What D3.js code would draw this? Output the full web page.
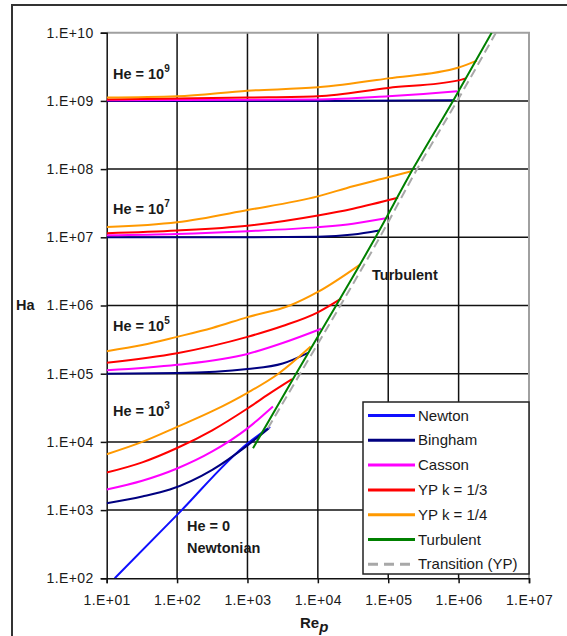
<!DOCTYPE html>
<html>
<head>
<meta charset="utf-8">
<script src="https://cdn.jsdelivr.net/npm/d3@7"></script>
<style>
  body { margin: 0; background: #fff; }
  svg text { font-family: "Liberation Sans", Arial, sans-serif; fill: #1a1a1a; }
</style>
</head>
<body>
<div class="graph"></div>
<script>
// axis ticks
var reTicks = [1e1, 1e2, 1e3, 1e4, 1e5, 1e6, 1e7]
var reLabels = ["1.E+01", "1.E+02", "1.E+03", "1.E+04", "1.E+05", "1.E+06", "1.E+07"]
var haTicks = [1e2, 1e3, 1e4, 1e5, 1e6, 1e7, 1e8, 1e9, 1e10]
var haLabels = ["1.E+02", "1.E+03", "1.E+04", "1.E+05", "1.E+06", "1.E+07", "1.E+08", "1.E+09", "1.E+10"]

// curves as [Re_p, Ha] pairs
var newton = [[13, 100], [100, 850], [1000, 9500], [2100, 16600]]

var binghamHe3 = [[10, 1260], [32, 1580], [79, 2000], [316, 3890], [1000, 8900], [2000, 15800]]
var cassonHe3 = [[10, 2000], [32, 2690], [100, 4070], [316, 7240], [1000, 15800], [2300, 33100]]
var yp3He3 = [[10, 3550], [32, 5010], [100, 8130], [316, 14800], [1000, 30900], [2000, 50100], [4300, 83000]]
var yp4He3 = [[10, 6600], [32, 10000], [100, 16600], [316, 28200], [1000, 52500], [2750, 100000], [7900, 250000]]

var binghamHe5 = [[10, 100000], [100, 102000], [1000, 117000], [3160, 141000], [7400, 204000]]
var cassonHe5 = [[10, 112000], [100, 135000], [1000, 195000], [3160, 282000], [11200, 457000]]
var yp3He5 = [[10, 145000], [100, 200000], [1000, 347000], [3160, 500000], [10000, 794000], [21400, 1260000]]
var yp4He5 = [[10, 214000], [32, 263000], [100, 347000], [316, 468000], [1000, 676000], [4000, 1000000], [10000, 1580000], [39800, 3980000]]

var binghamHe7 = [[10, 1e7], [1000, 1e7], [10000, 1.02e7], [31600, 1.1e7], [74000, 1.26e7]]
var cassonHe7 = [[10, 1.07e7], [100, 1.12e7], [1000, 1.23e7], [10000, 1.41e7], [31600, 1.58e7], [93000, 1.9e7]]
var yp3He7 = [[10, 1.15e7], [100, 1.26e7], [1000, 1.48e7], [10000, 2.09e7], [31600, 2.63e7], [138000, 3.8e7]]
var yp4He7 = [[10, 1.41e7], [100, 1.66e7], [1000, 2.51e7], [10000, 3.98e7], [31600, 5.62e7], [100000, 7.59e7], [214000, 9.3e7]]

var binghamHe9 = [[10, 1e9], [10000, 1e9], [832000, 1.02e9]]
var cassonHe9 = [[10, 1.02e9], [10000, 1.05e9], [100000, 1.17e9], [316000, 1.26e9], [955000, 1.38e9]]
var yp3He9 = [[10, 1.05e9], [1000, 1.12e9], [10000, 1.17e9], [100000, 1.55e9], [1000000, 2.0e9], [1260000, 2.14e9]]
var yp4He9 = [[10, 1.12e9], [100, 1.17e9], [1000, 1.41e9], [10000, 1.58e9], [100000, 2.14e9], [1000000, 3.09e9], [1820000, 3.89e9]]

var turbulent = [[1200, 8100], [4900, 1e5], [18200, 1e6], [66000, 1e7], [224000, 1e8], [832000, 1e9], [2950000, 1e10]]
var transition = [[1950, 15800], [5600, 1e5], [20900, 1e6], [75900, 1e7], [257000, 1e8], [955000, 1e9], [3390000, 1e10]]

var legendNames = ["Newton", "Bingham", "Casson", "YP k = 1/3", "YP k = 1/4", "Turbulent", "Transition (YP)"]
var legendColors = ["#1010ff", "#000080", "#ff00ff", "#ff0000", "#ff9900", "#008000", "#a8a8a8"]

var w = 567
var h = 636
var pLeft = 106.7, pRight = 529, pTop = 32.7, pBottom = 578.3

var x = d3.scaleLog().domain([1e1, 1e7]).range([pLeft, pRight])
var y = d3.scaleLog().domain([1e2, 1e10]).range([pBottom, pTop])

var svg = d3.select('.graph')
              .append("svg")
              .attr("width", w)
              .attr("height", h)

// outer frame (only left and top show in the picture)
svg.append("path")
  .attr("d", "M12,636 L12,5 L580,5")
  .attr("fill", "none")
  .attr("stroke", "#333")
  .attr("stroke-width", 2)

// gridlines
svg.selectAll("line.vgrid")
  .data(reTicks.slice(1, -1))
  .enter()
  .append("line")
  .attr("x1", function(d){ return x(d) })
  .attr("x2", function(d){ return x(d) })
  .attr("y1", pTop)
  .attr("y2", pBottom)
  .attr("stroke", "#111")
  .attr("stroke-width", 1.5)

svg.selectAll("line.hgrid")
  .data(haTicks.slice(1, -1))
  .enter()
  .append("line")
  .attr("y1", function(d){ return y(d) })
  .attr("y2", function(d){ return y(d) })
  .attr("x1", pLeft)
  .attr("x2", pRight)
  .attr("stroke", "#111")
  .attr("stroke-width", 1.5)

// top and right border in grey
svg.append("path")
  .attr("d", "M" + pLeft + "," + pTop + " L" + pRight + "," + pTop + " L" + pRight + "," + pBottom)
  .attr("fill", "none")
  .attr("stroke", "#a0a0a0")
  .attr("stroke-width", 2)

// axes
var yAxis = d3.axisLeft(y)
  .tickValues(haTicks)
  .tickFormat(function(d, i){ return haLabels[i] })
  .tickSize(6)
  .tickPadding(7)
var xAxis = d3.axisBottom(x)
  .tickValues(reTicks)
  .tickFormat(function(d, i){ return reLabels[i] })
  .tickSize(5)
  .tickPadding(12)

var gy = svg.append("g").attr("transform", "translate(" + pLeft + ",0)").call(yAxis)
var gx = svg.append("g").attr("transform", "translate(0," + pBottom + ")").call(xAxis)
svg.selectAll(".domain").attr("stroke", "#111").attr("stroke-width", 1.5)
svg.selectAll(".tick line").attr("stroke", "#111").attr("stroke-width", 1.5)
svg.selectAll(".tick text")
  .attr("font-family", "Liberation Sans, Arial, sans-serif")
  .attr("font-size", 14)
  .attr("fill", "#1a1a1a")
  .style("letter-spacing", "0.4px")

// clip to plot area
svg.append("clipPath").attr("id", "plotclip")
  .append("rect")
  .attr("x", pLeft).attr("y", pTop)
  .attr("width", pRight - pLeft).attr("height", pBottom - pTop)

var line = d3.line()
  .x(function(d){ return x(d[0]) })
  .y(function(d){ return y(d[1]) })
  .curve(d3.curveMonotoneX)

var plot = svg.append("g").attr("clip-path", "url(#plotclip)")

var series = [
  { data: [newton], color: legendColors[0] },
  { data: [binghamHe3, binghamHe5, binghamHe7, binghamHe9], color: legendColors[1] },
  { data: [cassonHe3, cassonHe5, cassonHe7, cassonHe9], color: legendColors[2] },
  { data: [yp3He3, yp3He5, yp3He7, yp3He9], color: legendColors[3] },
  { data: [yp4He3, yp4He5, yp4He7, yp4He9], color: legendColors[4] },
  { data: [turbulent], color: legendColors[5] },
  { data: [transition], color: legendColors[6], dash: "9,5" }
]

series.forEach(function(s){
  plot.selectAll(null)
    .data(s.data)
    .enter()
    .append("path")
    .attr("d", line)
    .attr("fill", "none")
    .attr("stroke", s.color)
    .attr("stroke-width", 2)
    .attr("stroke-dasharray", s.dash || null)
})

// annotations
var heLabels = [
  { exp: "9", x: 113, y: 79 },
  { exp: "7", x: 113, y: 214 },
  { exp: "5", x: 113, y: 331 },
  { exp: "3", x: 113, y: 416 }
]
heLabels.forEach(function(d){
  var t = svg.append("text")
    .attr("x", d.x)
    .attr("y", d.y)
    .attr("font-size", 14.5)
    .attr("font-weight", "bold")
  t.append("tspan").text("He = 10")
  t.append("tspan").attr("dy", -7).attr("font-size", 10).text(d.exp)
})

var notes = [
  { text: "He = 0", x: 187, y: 531 },
  { text: "Newtonian", x: 187, y: 553 },
  { text: "Turbulent", x: 372, y: 280 },
  { text: "Ha", x: 16, y: 310 }
]
svg.selectAll("text.note")
  .data(notes)
  .enter()
  .append("text")
  .attr("class", "note")
  .attr("x", function(d){ return d.x })
  .attr("y", function(d){ return d.y })
  .attr("font-size", 14.5)
  .attr("font-weight", "bold")
  .text(function(d){ return d.text })

var rep = svg.append("text")
  .attr("x", 300)
  .attr("y", 628)
  .attr("font-size", 15)
  .attr("font-weight", "bold")
rep.append("tspan").text("Re")
rep.append("tspan").attr("dy", 4).attr("font-style", "italic").text("p")

// legend
var lg = svg.append("g")
lg.append("rect")
  .attr("x", 363).attr("y", 402)
  .attr("width", 166).attr("height", 172)
  .attr("fill", "#fff")
  .attr("stroke", "#222")
  .attr("stroke-width", 1.5)

var rows = lg.selectAll("g.row")
  .data(legendNames)
  .enter()
  .append("g")
  .attr("transform", function(d, i){ return "translate(0," + (415.5 + i * 24.8) + ")" })

rows.append("line")
  .attr("x1", 368).attr("x2", 415)
  .attr("stroke", function(d, i){ return legendColors[i] })
  .attr("stroke-width", 3)
  .attr("stroke-dasharray", function(d, i){ return i == 6 ? "10,6" : null })

rows.append("text")
  .attr("x", 418)
  .attr("y", 5)
  .attr("font-size", 15)
  .text(function(d){ return d })
</script>
</body>
</html>
